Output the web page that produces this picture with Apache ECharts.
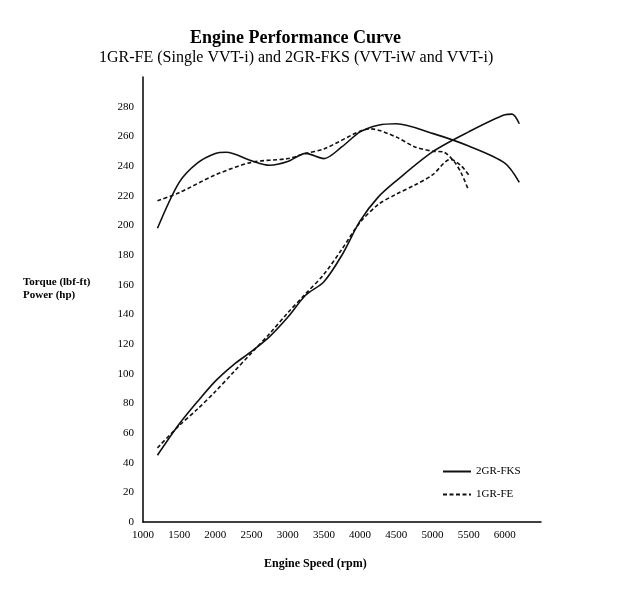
<!DOCTYPE html>
<html>
<head>
<meta charset="utf-8">
<script src="https://cdn.jsdelivr.net/npm/echarts@6/dist/echarts.min.js"></script>
<style>
  html, body { margin: 0; padding: 0; background: #fff; }
  #chart { width: 634px; height: 600px; }
</style>
</head>
<body>
<div id="chart"></div>
<script>
// engine speed (rpm) and values
var rpmFksTorque = [1200, 1500, 1750, 2000, 2150, 2500, 2750, 3000, 3250, 3500, 3750, 4000, 4250, 4500, 5000, 5500, 6000, 6200];
var fksTorque    = [198, 229, 242, 248.5, 249.3, 243.5, 240.5, 243, 248.5, 245, 253, 263, 267.5, 268.5, 262, 253.5, 242, 229];

var rpmFksPower = [1200, 1500, 1750, 2000, 2250, 2500, 2750, 3000, 3250, 3500, 3750, 4000, 4250, 4500, 5000, 5500, 6000, 6100, 6200];
var fksPower    = [45, 66, 81, 95, 106, 115, 125, 138, 153, 162, 180, 203, 219, 230, 249.5, 263, 274.5, 275, 268.5];

var rpmFeTorque = [1200, 1500, 2000, 2500, 3000, 3250, 3500, 4000, 4150, 4500, 4750, 5000, 5150, 5300, 5400, 5500];
var feTorque    = [216.5, 222, 234, 242.5, 245, 248.5, 251.5, 263.5, 265, 259.5, 253, 250, 249.5, 243, 235, 223.5];

var rpmFePower = [1200, 1500, 1750, 2000, 2250, 2500, 2750, 3000, 3250, 3500, 3750, 4000, 4250, 4500, 4750, 5000, 5250, 5400, 5500];
var fePower    = [50, 65, 76, 88, 101, 114, 127, 141, 154, 167, 184, 202, 214, 221, 227, 234, 244.5, 240, 234];

var FONT = 'Liberation Serif';

function pairs(xs, ys) {
  return xs.map(function (x, i) { return [x, ys[i]]; });
}

function curve(name, xs, ys, dashed) {
  return {
    name: name,
    type: 'line',
    data: pairs(xs, ys),
    smooth: 0.3,
    symbol: 'none',
    lineStyle: { color: '#111', width: 1.6, type: dashed ? [4, 2.5] : 'solid' },
    itemStyle: { color: '#111' }
  };
}

var chart = echarts.init(document.getElementById('chart'));

var option = {
  backgroundColor: '#fff',
  animation: false,
  title: [
    {
      text: 'Engine Performance Curve',
      left: 185, top: 24,
      textStyle: { fontFamily: FONT, fontSize: 18, fontWeight: 'bold', color: '#000' }
    },
    {
      text: '1GR-FE (Single VVT-i) and 2GR-FKS (VVT-iW and VVT-i)',
      left: 94, top: 45,
      textStyle: { fontFamily: FONT, fontSize: 16, fontWeight: 'normal', color: '#000' }
    }
  ],
  grid: { left: 143, right: 93, top: 77, bottom: 78 },
  legend: {
    orient: 'vertical',
    left: 437, top: 461,
    itemWidth: 28, itemHeight: 10, itemGap: 12,
    data: ['2GR-FKS', '1GR-FE'],
    // hide the marker dot, keep the line sample
    itemStyle: { color: 'rgba(0,0,0,0)', borderColor: 'rgba(0,0,0,0)', borderWidth: 0 },
    textStyle: { fontFamily: FONT, fontSize: 11, color: '#000' }
  },
  xAxis: {
    type: 'value',
    min: 1000, max: 6500, interval: 500,
    axisLine: { lineStyle: { color: '#000', width: 1.5 } },
    axisTick: { show: false },
    splitLine: { show: false },
    axisLabel: {
      showMaxLabel: false, margin: 8, fontFamily: FONT, fontSize: 11, color: '#000',
      formatter: function (v) { return String(v); }
    }
  },
  yAxis: {
    type: 'value',
    min: 0, max: 300, interval: 20,
    axisLine: { show: true, lineStyle: { color: '#000', width: 1.5 } },
    axisTick: { show: false },
    splitLine: { show: false },
    axisLabel: { showMaxLabel: false, margin: 9, fontFamily: FONT, fontSize: 11, color: '#000' }
  },
  graphic: [
    {
      type: 'text', left: 23, top: 276,
      style: { text: 'Torque (lbf-ft)\nPower (hp)', font: 'bold 11px "Liberation Serif"', fill: '#000', lineHeight: 13 }
    },
    {
      type: 'text', left: 264, top: 558,
      style: { text: 'Engine Speed (rpm)', font: 'bold 12px "Liberation Serif"', fill: '#000' }
    }
  ],
  series: [
    curve('2GR-FKS', rpmFksTorque, fksTorque, false),
    curve('2GR-FKS', rpmFksPower, fksPower, false),
    curve('1GR-FE', rpmFeTorque, feTorque, true),
    curve('1GR-FE', rpmFePower, fePower, true)
  ]
};

chart.setOption(option);
</script>
</body>
</html>
